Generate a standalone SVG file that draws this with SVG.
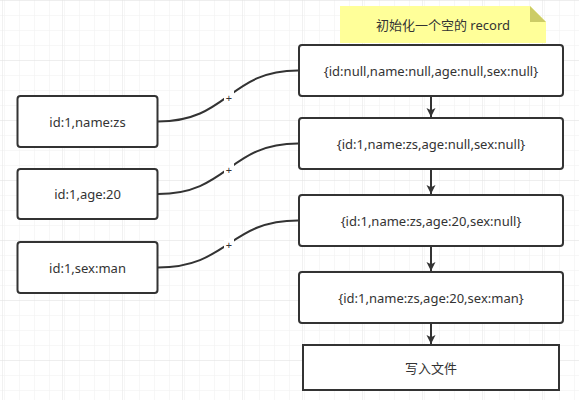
<svg xmlns="http://www.w3.org/2000/svg" width="579" height="400" viewBox="0 0 579 400">
<style>
.node{fill:#fff;stroke:#333;stroke-width:2}
.t{font-family:"Noto Sans","Noto Sans CJK SC",sans-serif;font-size:13px;fill:#333;text-anchor:middle;dominant-baseline:central}
.edge{fill:none;stroke:#333;stroke-width:2}
.lbl{font-family:"Noto Sans",sans-serif;font-size:11px;fill:#333;text-anchor:middle;dominant-baseline:central}
</style>
<defs>
<pattern id="minor" x="2" y="0" width="15" height="15" patternUnits="userSpaceOnUse">
<path d="M0 0V15M0 0H15" fill="none" stroke="#f0f0f0" stroke-width="1"/>
</pattern>
<pattern id="major" x="2" y="0" width="60" height="60" patternUnits="userSpaceOnUse">
<rect width="60" height="60" fill="url(#minor)"/>
<path d="M0 0V60M0 0H60" fill="none" stroke="#e3e3e3" stroke-width="1"/>
</pattern>
<marker id="arr" viewBox="0 0 10 10" refX="10" refY="5" markerWidth="9" markerHeight="14" markerUnits="userSpaceOnUse" orient="auto">
<path d="M0 0L10 5L0 10L2.5 5Z" fill="#333"/>
</marker>
</defs>
<rect width="579" height="400" fill="#fff"/>
<rect width="579" height="400" fill="url(#major)"/>

<g id="note">
<path d="M340 6H530L546 22V43H340Z" fill="#ffff99"/>
<path d="M530 6V22H546Z" fill="#cccc66"/>
<text class="t" x="443" y="25">初始化一个空的 record</text>
</g>

<g id="r1"><rect class="node" x="299" y="45" width="264" height="51" rx="3"/><text class="t" x="431" y="70.5">{id:null,name:null,age:null,sex:null}</text></g>
<g id="r2"><rect class="node" x="299" y="118" width="264" height="51" rx="3"/><text class="t" x="431" y="143.5">{id:1,name:zs,age:null,sex:null}</text></g>
<g id="r3"><rect class="node" x="299" y="195" width="264" height="51" rx="3"/><text class="t" x="431" y="220.5">{id:1,name:zs,age:20,sex:null}</text></g>
<g id="r4"><rect class="node" x="299" y="272" width="264" height="51" rx="3"/><text class="t" x="431" y="297.5">{id:1,name:zs,age:20,sex:man}</text></g>
<g id="write"><rect class="node" x="303" y="345" width="256" height="45"/><text class="t" x="431" y="367.5">写入文件</text></g>

<g id="l1"><rect class="node" x="17.5" y="96" width="140" height="51" rx="3"/><text class="t" x="87.5" y="121.5">id:1,name:zs</text></g>
<g id="l2"><rect class="node" x="17.5" y="169" width="140" height="50" rx="3"/><text class="t" x="87.5" y="194">id:1,age:20</text></g>
<g id="l3"><rect class="node" x="17.5" y="242" width="140" height="51" rx="3"/><text class="t" x="87.5" y="267.5">id:1,sex:man</text></g>

<g id="connectors">
<path class="edge" d="M158 121.5C228.5 121.5 228.5 70.5 298 70.5"/>
<path class="edge" d="M158 194C228.5 194 228.5 143.5 298 143.5"/>
<path class="edge" d="M158 267.5C228.5 267.5 228.5 220.5 298 220.5"/>
<rect x="224" y="90.5" width="10" height="13" fill="#fff"/>
<text class="lbl" x="229" y="97">+</text>
<rect x="224" y="163" width="10" height="13" fill="#fff"/>
<text class="lbl" x="229" y="169.5">+</text>
<rect x="224" y="238" width="10" height="13" fill="#fff"/>
<text class="lbl" x="229" y="244.5">+</text>
<path class="edge" d="M431 96V117" marker-end="url(#arr)"/>
<path class="edge" d="M431 169V194" marker-end="url(#arr)"/>
<path class="edge" d="M431 246V271" marker-end="url(#arr)"/>
<path class="edge" d="M431 323V344" marker-end="url(#arr)"/>
</g>
</svg>
